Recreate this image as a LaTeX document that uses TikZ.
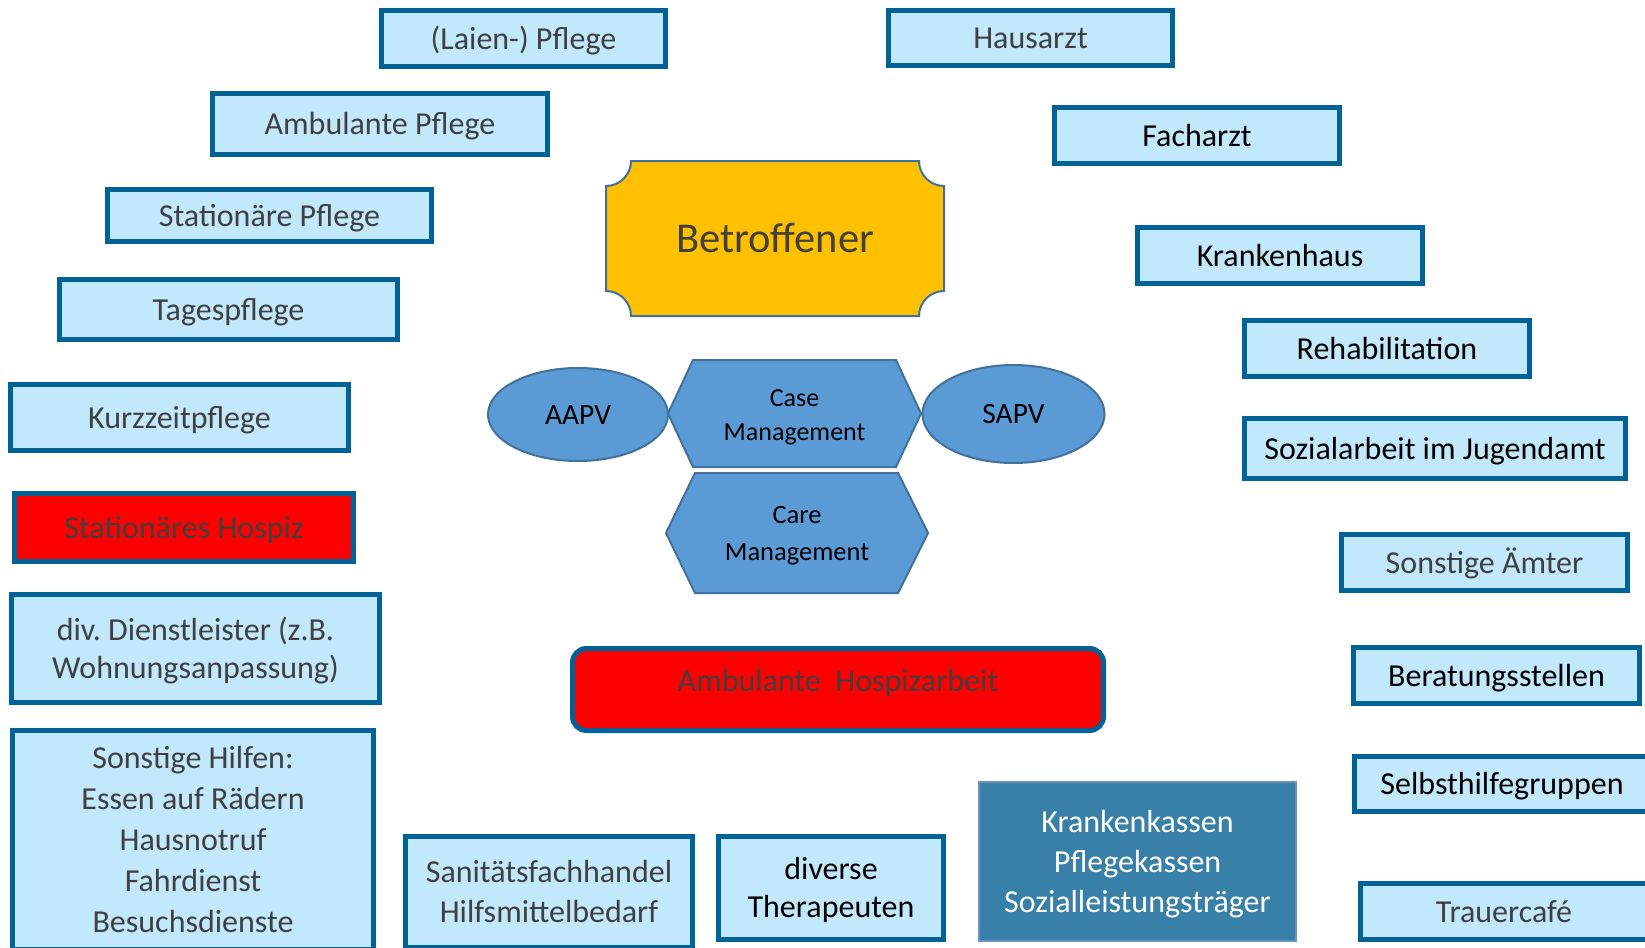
\documentclass[tikz,border=0pt]{standalone}
\usepackage{fontspec}
\setmainfont{Carlito}
\frenchspacing
\usetikzlibrary{shapes.geometric}
\definecolor{boxfill}{RGB}{194,232,251}
\definecolor{boxline}{RGB}{0,98,150}
\definecolor{txtgray}{RGB}{64,64,64}
\definecolor{hexfill}{RGB}{91,155,213}
\definecolor{hexline}{RGB}{65,113,156}
\definecolor{gold}{RGB}{255,192,0}
\definecolor{kasse}{RGB}{56,128,168}
\definecolor{kasseline}{RGB}{110,145,185}
\newcommand\ms{\rule[-0.24em]{0pt}{1.14em}}
% name, x1, y1, x2, y2, text, style
\newcommand\bx[7]{\node[lbox,#7,minimum width={#4-#2-5},minimum height={#5-#3-5}] (#1) at ({(#2+#4)/2},{(#3+#5)/2}) {#6};}
\begin{document}
\begin{tikzpicture}[x=1pt,y=-1pt,
  lbox/.style={draw=boxline,line width=5pt,fill=boxfill,rectangle,inner sep=0pt,align=center,font=\fontsize{32}{40}\selectfont},
  gr/.style={text=txtgray},
  bk/.style={text=black},
  redbox/.style={fill=red,text=txtgray},
  hexshape/.style={draw=hexline,line width=2pt,fill=hexfill},
  hextext/.style={inner sep=0pt,align=center,text=black},
  ell/.style={ellipse,draw=hexline,line width=2pt,fill=hexfill,inner sep=0pt,text=black,font=\fontsize{29.5}{34}\selectfont}]
\useasboundingbox (0,0) rectangle (1645,947);
\fill[white] (0,0) rectangle (1645,947);

% left column
\bx{laien}{379}{8}{668}{69}{\ms(Laien-) Pflege}{gr}
\bx{ambpfl}{210}{91}{550}{157}{\ms Ambulante Pflege}{gr}
\bx{statpfl}{105}{187}{434}{244}{\ms Stationäre Pflege}{gr}
\bx{tagespfl}{57}{277}{400}{342}{\ms Tagespflege}{gr}
\bx{kurzzeit}{8}{382}{351}{453}{\ms Kurzzeitpflege}{gr}
\bx{hospiz}{12}{491}{356}{564}{\ms Stationäres Hospiz}{redbox}
\bx{dienst}{9}{592}{382}{705}{\ms div. Dienstleister (z.B.\\\ms Wohnungsanpassung)}{gr,font=\fontsize{32}{38}\selectfont}
\bx{hilfen}{10}{728}{376}{952}{\ms Sonstige Hilfen:\\\ms Essen auf Rädern\\\ms Hausnotruf\\\ms Fahrdienst\\\ms Besuchsdienste}{gr,font=\fontsize{32}{41}\selectfont}

% right column
\bx{hausarzt}{886}{8}{1175}{68}{\ms Hausarzt}{gr}
\bx{facharzt}{1052}{105}{1342}{166}{\ms Facharzt}{bk}
\bx{krankenhaus}{1135}{225}{1425}{286}{\ms Krankenhaus}{bk}
\bx{reha}{1242}{318}{1532}{379}{\ms Rehabilitation}{bk}
\bx{sozial}{1242}{416}{1628}{481}{\ms Sozialarbeit im Jugendamt}{bk}
\bx{aemter}{1339}{532}{1630}{593}{\ms Sonstige Ämter}{gr}
\bx{beratung}{1351}{645}{1642}{706}{\ms Beratungsstellen}{bk}
\bx{selbst}{1352}{754}{1652}{814}{\ms Selbsthilfegruppen}{bk}
\bx{trauer}{1358}{881}{1650}{942}{\ms Trauercafé}{gr}

% bottom row
\bx{sanitaet}{403}{834}{695}{950}{\ms Sanitätsfachhandel\\\ms Hilfsmittelbedarf}{gr}
\bx{therap}{716}{834}{946}{942}{\ms diverse\\\ms Therapeuten}{bk,font=\fontsize{32}{38}\selectfont}
\node[rectangle,draw=kasseline,line width=2pt,fill=kasse,text=white,inner sep=0pt,align=center,
  font=\fontsize{32}{40}\selectfont,minimum width=317,minimum height=159] (kassen) at (1137.5,861.5)
  {\ms Krankenkassen\\\ms Pflegekassen\\\ms Sozialleistungsträger};

% Ambulante Hospizarbeit
\node[rectangle,rounded corners=14pt,draw=boxline,line width=5pt,fill=red,text=txtgray,inner sep=0pt,
  font=\fontsize{32}{40}\selectfont,minimum width=531,minimum height=82] (ambhosp) at (838,689.5)
  {\raisebox{9pt}[0.9em][0.24em]{Ambulante~ Hospizarbeit}};

% Betroffener
\draw[draw=hexline,line width=2pt,fill=gold]
  (631,161) -- (919,161) arc[start angle=180,end angle=90,radius=25]
  -- (944,291) arc[start angle=270,end angle=180,radius=25]
  -- (631,316) arc[start angle=0,end angle=-90,radius=25]
  -- (606,186) arc[start angle=90,end angle=0,radius=25] -- cycle;
\node[inner sep=0pt,text=txtgray,font=\fontsize{42.5}{50}\selectfont] (betr) at (775,238.5) {\ms Betroffener};

% Ellipses
\node[ell,minimum width=180,minimum height=93] (aapv) at (578,414.5) {\ms AAPV};
\node[ell,minimum width=182,minimum height=98] (sapv) at (1013.5,414) {\ms SAPV};

% Hexagons
\draw[hexshape] (668,413.5) -- (693,360) -- (896,360) -- (921,413.5) -- (896,467) -- (693,467) -- cycle;
\node[hextext,font=\fontsize{26}{34}\selectfont] (case) at (794.5,415) {\ms Case\\\ms Management};
\draw[hexshape] (666,533) -- (695,473) -- (898,473) -- (928,533) -- (898,593) -- (695,593) -- cycle;
\node[hextext,font=\fontsize{26.5}{37}\selectfont] (care) at (797,533.5) {\ms Care\\\ms Management};
\end{tikzpicture}
\end{document}
